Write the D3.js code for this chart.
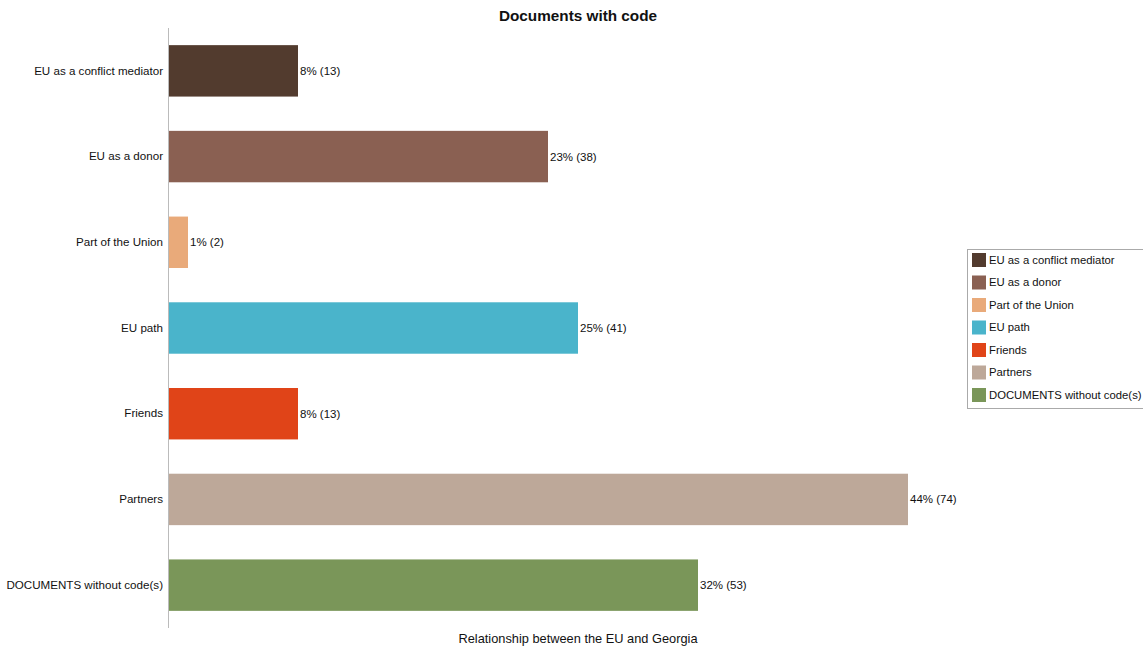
<!DOCTYPE html>
<html lang="en">
<head>
<meta charset="UTF-8">
<title>Documents with code</title>
<script src="https://d3js.org/d3.v7.min.js"></script>
<style>
  body { margin: 0; background: #fff; }
  text { font-family: "Liberation Sans", Arial, sans-serif; fill: #111; }
</style>
</head>
<body>
<script>
var categories = ["EU as a conflict mediator", "EU as a donor", "Part of the Union", "EU path", "Friends", "Partners", "DOCUMENTS without code(s)"];
var counts = [13, 38, 2, 41, 13, 74, 53];
var percents = ["8%", "23%", "1%", "25%", "8%", "44%", "32%"];
var colors = ["#523b2e", "#8a6052", "#e9aa7a", "#4ab4cb", "#e04418", "#bda899", "#7a9659"];

var width = 1143, height = 647;
var svg = d3.select("body").append("svg")
    .attr("width", width)
    .attr("height", height);

var x = d3.scaleLinear().domain([0, 100]).range([168, 1168]);
var y = d3.scaleBand().domain(categories).range([28, 628])
    .paddingInner(0.4).paddingOuter(0.2);

// title
svg.append("text")
    .attr("x", 578).attr("y", 21)
    .attr("text-anchor", "middle")
    .style("font-size", "15.3px").style("font-weight", "bold")
    .text("Documents with code");

// bars
svg.selectAll("rect.bar")
    .data(categories)
    .enter().append("rect")
    .attr("class", "bar")
    .attr("x", x(0))
    .attr("y", d => y(d))
    .attr("width", (d, i) => x(counts[i]) - x(0))
    .attr("height", y.bandwidth())
    .attr("fill", (d, i) => colors[i]);

// value labels
svg.selectAll("text.val")
    .data(categories)
    .enter().append("text")
    .attr("class", "val")
    .attr("x", (d, i) => x(counts[i]) + 2)
    .attr("y", d => y(d) + y.bandwidth() / 2)
    .attr("dy", "0.35em")
    .style("font-size", "11.5px")
    .text((d, i) => percents[i] + " (" + counts[i] + ")");

// category axis
var yAxis = svg.append("g")
    .attr("transform", "translate(" + x(0) + ",0)")
    .call(d3.axisLeft(y).tickSize(0).tickPadding(5));
yAxis.select(".domain").attr("stroke", "#bbb").attr("d", "M0.5,28V628");
yAxis.selectAll("text").style("font-size", "11.6px");

// axis title
svg.append("text")
    .attr("x", 578).attr("y", 643)
    .attr("text-anchor", "middle")
    .style("font-size", "12.8px")
    .text("Relationship between the EU and Georgia");

// legend
var legend = svg.append("g").attr("transform", "translate(967,249)");
legend.append("rect")
    .attr("x", 0.5).attr("y", 0.5)
    .attr("width", 190).attr("height", 159)
    .attr("fill", "#fff").attr("stroke", "#aaa");
var items = legend.selectAll("g.item")
    .data(categories)
    .enter().append("g")
    .attr("class", "item")
    .attr("transform", (d, i) => "translate(5," + (4 + i * 22.5) + ")");
items.append("rect")
    .attr("width", 14).attr("height", 14)
    .attr("fill", (d, i) => colors[i]);
items.append("text")
    .attr("x", 17).attr("y", 7)
    .attr("dy", "0.35em")
    .style("font-size", "11.3px")
    .text(d => d);
</script>
</body>
</html>
